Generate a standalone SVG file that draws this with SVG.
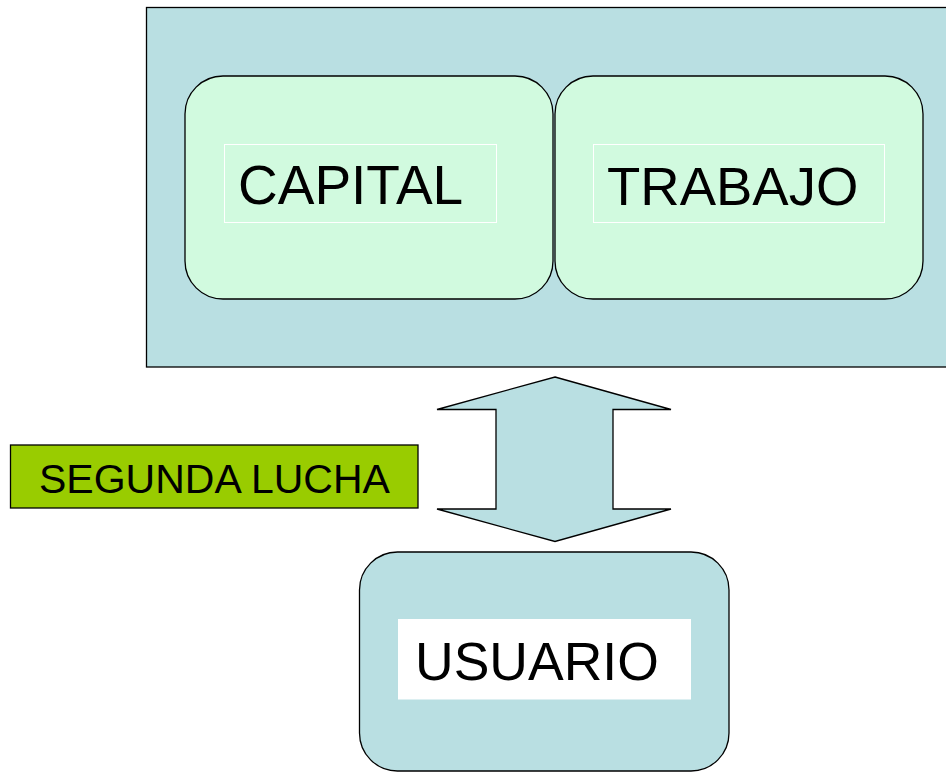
<svg xmlns="http://www.w3.org/2000/svg" width="946" height="772" viewBox="0 0 946 772">
<style>
.lbl{font-family:"Liberation Sans",Arial,sans-serif;fill:#000}
.node{fill:#D1FADF;stroke:#000;stroke-width:1.3}
.tbox{fill:none;stroke:#fff;stroke-width:1}
.teal{fill:#B9DFE2;stroke:#000;stroke-width:1.3}
</style>
<rect width="946" height="772" fill="#fff"/>
<g id="frame">
<rect class="teal" x="146.5" y="7.5" width="820" height="359.5"/>
</g>
<g id="capital">
<rect class="node" x="185" y="76" width="368" height="223" rx="38" ry="38"/>
<rect class="tbox" x="224.5" y="144.5" width="272" height="78"/>
<text class="lbl" x="238" y="204" font-size="55">CAPITAL</text>
</g>
<g id="trabajo">
<rect class="node" x="555" y="76" width="368" height="223" rx="38" ry="38"/>
<rect class="tbox" x="593.5" y="144.5" width="291" height="78"/>
<text class="lbl" x="607" y="205" font-size="54.5">TRABAJO</text>
</g>
<g id="connectors">
<polygon fill="#B9DFE2" stroke="#000" stroke-width="1.3" stroke-linejoin="miter" points="555,377 671,409.5 613,409.5 613,509 671,509 555,541.5 437,509 496,509 496,409.5 437,409.5"/>
</g>
<g id="segunda">
<rect x="10.5" y="445" width="407.5" height="63" fill="#99CC00" stroke="#000" stroke-width="1.3"/>
<text class="lbl" x="39" y="492.5" font-size="41">SEGUNDA LUCHA</text>
</g>
<g id="usuario">
<rect class="teal" x="359.5" y="552" width="369.5" height="219" rx="38" ry="38"/>
<rect x="398" y="619" width="293" height="80.5" fill="#fff"/>
<text class="lbl" x="415" y="679.5" font-size="53.5">USUARIO</text>
</g>
</svg>
